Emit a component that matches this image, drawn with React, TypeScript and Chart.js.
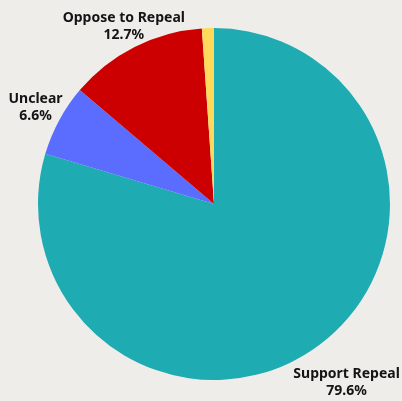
import React, { useEffect, useRef } from "react";
import { Chart, registerables } from "chart.js";

Chart.register(...registerables);

const categories = ["Support Repeal", "Unclear", "Oppose to Repeal", "Other"];
const values = [79.6, 6.6, 12.7, 1.1];
const percentLabels = ["79.6%", "6.6%", "12.7%", ""];
const colors = ["#1eabb1", "#5a6dff", "#cc0000", "#ffd95c"];
const labelRadiusFactor = [1.26, 1.153, 1.136, 0];

export default function App() {
  const ref = useRef<HTMLCanvasElement | null>(null);

  useEffect(() => {
    document.body.style.margin = "0";
    document.body.style.background = "#efedea";
    const canvas = ref.current;
    if (!canvas) return;

    const labelPlugin = {
      id: "outerLabels",
      afterDatasetsDraw(chart: any) {
        const ctx = chart.ctx;
        const meta = chart.getDatasetMeta(0);
        ctx.save();
        ctx.fillStyle = "#141414";
        ctx.textAlign = "center";
        ctx.textBaseline = "middle";
        ctx.font = "bold 14px 'Noto Sans', sans-serif";
        meta.data.forEach((arc: any, i: number) => {
          if (!percentLabels[i]) return;
          const { x, y, startAngle, endAngle, outerRadius } = arc.getProps(
            ["x", "y", "startAngle", "endAngle", "outerRadius"],
            true
          );
          const mid = (startAngle + endAngle) / 2;
          const d = outerRadius * labelRadiusFactor[i];
          const cx = x + Math.cos(mid) * d;
          const cy = y + Math.sin(mid) * d;
          ctx.fillText(categories[i], cx, cy - 8);
          ctx.fillText(percentLabels[i], cx, cy + 9);
        });
        ctx.restore();
      },
    };

    const chart = new Chart(canvas, {
      type: "pie",
      data: {
        labels: categories,
        datasets: [
          {
            data: values,
            backgroundColor: colors,
            borderWidth: 0,
          },
        ],
      },
      options: {
        animation: false,
        responsive: false,
        maintainAspectRatio: false,
        layout: { padding: { left: 38, right: 12, top: 28, bottom: 21 } },
        plugins: {
          legend: { display: false },
          tooltip: { enabled: false },
        },
      },
      plugins: [labelPlugin],
    });
    return () => chart.destroy();
  }, []);

  return (
    <div style={{ width: 402, height: 401, background: "#efedea" }}>
      <canvas ref={ref} width={402} height={401} style={{ width: 402, height: 401, display: "block" }} />
    </div>
  );
}
